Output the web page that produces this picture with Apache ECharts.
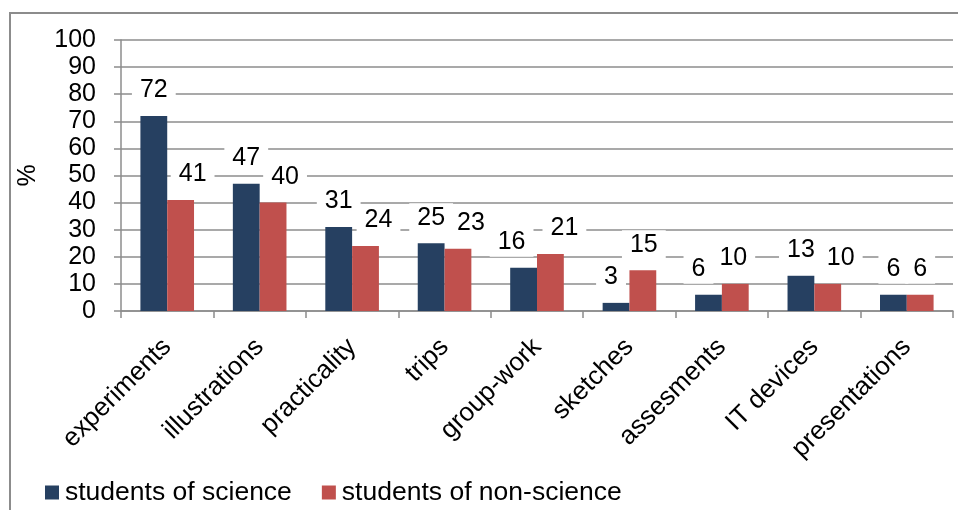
<!DOCTYPE html>
<html>
<head>
<meta charset="utf-8">
<script src="https://cdn.jsdelivr.net/npm/echarts@6/dist/echarts.min.js"></script>
<style>
  html, body { margin: 0; padding: 0; background: #fff; }
  #chart { width: 958px; height: 510px; }
</style>
</head>
<body>
<div id="chart"></div>
<script>
// Teaching methods preferred, by student group (%)
const categories = ['experiments', 'illustrations', 'practicality', 'trips', 'group-work',
                    'sketches', 'assesments', 'IT devices', 'presentations'];
const scienceValues = [72, 47, 31, 25, 16, 3, 6, 13, 6];
const nonScienceValues = [41, 40, 24, 23, 21, 15, 10, 10, 6];
const seriesNames = ['students of science', 'students of non-science'];
const yTicks = [0, 10, 20, 30, 40, 50, 60, 70, 80, 90, 100];

const FONT = '"Liberation Sans", Arial, sans-serif';
const GRID_COLOR = '#8c8c8c';

// Horizontal nudges (px) that keep neighbouring value labels from colliding
const labelNudge = {
  science:    [0, 0, 0, 0, -12, -5, -10, 0, 0],
  nonScience: [12, 12, 13, 13, 14, 1, -2, 13, 0]
};

function valueLabel() {
  return {
    show: true,
    position: 'top',
    distance: 11,
    color: '#000',
    fontFamily: FONT,
    fontSize: 25,
    backgroundColor: '#fff',
    padding: [2, 8, 2, 8],
    formatter: p => String(p.value)
  };
}

function barData(values, nudges) {
  return values.map((v, i) => ({
    value: v,
    label: { offset: [nudges[i], 0] }
  }));
}

const chart = echarts.init(document.getElementById('chart'), null, { renderer: 'canvas' });

chart.setOption({
  animation: false,
  backgroundColor: '#fff',
  textStyle: { fontFamily: FONT },
  graphic: [{
    type: 'rect',
    z: -1,
    silent: true,
    shape: { x: 10, y: 13, width: 1000, height: 1000 },
    style: { fill: 'none', stroke: GRID_COLOR, lineWidth: 2 }
  }],
  grid: { left: 121, right: 5, top: 40, bottom: 199, containLabel: false },
  legend: {
    left: 45,
    top: 479,
    padding: 0,
    itemWidth: 14,
    itemHeight: 14,
    itemGap: 30,
    icon: 'rect',
    textStyle: { fontFamily: FONT, fontSize: 26.5, color: '#000', padding: [0, 0, 0, 1] },
    data: seriesNames
  },
  xAxis: {
    type: 'category',
    data: categories,
    boundaryGap: true,
    axisLine: { lineStyle: { color: GRID_COLOR, width: 1.5 } },
    axisTick: { show: true, alignWithLabel: false, length: 7, lineStyle: { color: GRID_COLOR, width: 1.5 } },
    axisLabel: {
      rotate: 45,
      margin: 32,
      interval: 0,
      color: '#000',
      fontFamily: FONT,
      fontSize: 26
    }
  },
  yAxis: {
    type: 'value',
    min: yTicks[0],
    max: yTicks[yTicks.length - 1],
    interval: yTicks[1] - yTicks[0],
    name: '%',
    nameLocation: 'middle',
    nameRotate: 90,
    nameGap: 80,
    nameTextStyle: { color: '#000', fontFamily: FONT, fontSize: 25 },
    axisLine: { show: true, lineStyle: { color: GRID_COLOR, width: 1.5 } },
    axisTick: { show: true, inside: false, length: 7, lineStyle: { color: GRID_COLOR, width: 1.5 } },
    axisLabel: {
      margin: 25,
      color: '#000',
      fontFamily: FONT,
      fontSize: 25
    },
    splitLine: { show: true, lineStyle: { color: GRID_COLOR, width: 1.5 } }
  },
  series: [
    {
      name: seriesNames[0],
      type: 'bar',
      data: barData(scienceValues, labelNudge.science),
      barGap: '0%',
      barCategoryGap: '42%',
      itemStyle: { color: '#264061' },
      label: valueLabel()
    },
    {
      name: seriesNames[1],
      type: 'bar',
      data: barData(nonScienceValues, labelNudge.nonScience),
      barGap: '0%',
      barCategoryGap: '42%',
      itemStyle: { color: '#C0504D' },
      label: valueLabel()
    }
  ]
});
</script>
</body>
</html>
